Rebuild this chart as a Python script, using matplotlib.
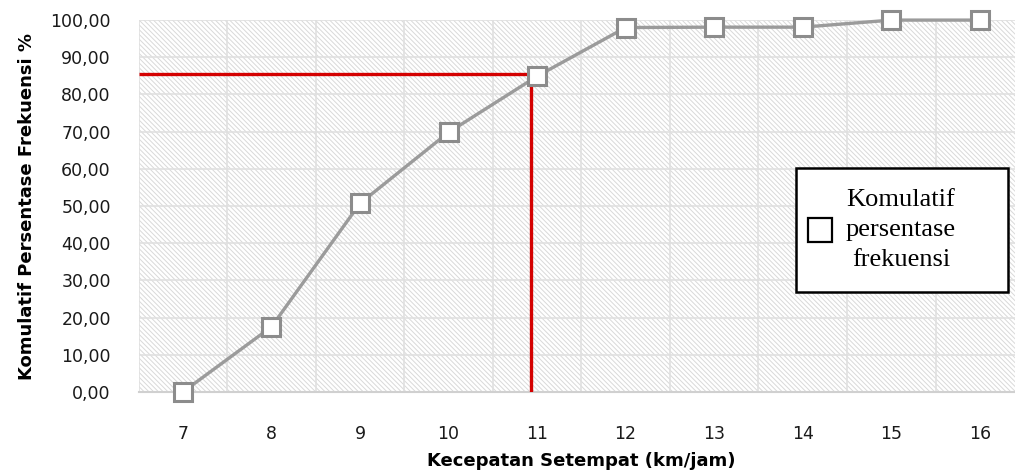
import numpy as np
import matplotlib
matplotlib.use('Agg')
import matplotlib.pyplot as plt
from matplotlib.patches import Rectangle
from matplotlib.lines import Line2D

# data
kecepatan = [7, 8, 9, 10, 11, 12, 13, 14, 15, 16]
komulatif = [0.0, 17.5, 50.7, 69.8, 84.9, 98.0, 98.1, 98.1, 100.0, 100.0]
ref_x = 10.93
ref_y = 85.4
y_ticks = [0, 10, 20, 30, 40, 50, 60, 70, 80, 90, 100]
legend_label = 'Komulatif\npersentase\nfrekuensi'

plt.rcParams['font.family'] = 'DejaVu Sans'
plt.rcParams['hatch.linewidth'] = 0.7

fig = plt.figure(figsize=(10.15, 4.75), dpi=100)
ax = fig.add_axes([0.1365, 0.1747, 0.8725, 0.783])

# hatched plot area like the excel pattern fill
bg = Rectangle((0, 0), 1, 1, transform=ax.transAxes, facecolor='white',
               edgecolor='#d9d9d9', hatch='\\\\\\\\\\\\\\', lw=0, zorder=0)
ax.add_patch(bg)

ax.set_xlim(6.5, 16.5)
ax.set_ylim(0, 100)
ax.set_xticks(kecepatan)
ax.set_xticklabels([str(k) for k in kecepatan])
ax.set_yticks(y_ticks)
ax.set_yticklabels([('%.2f' % v).replace('.', ',') for v in y_ticks])

# grid: vertical lines between categories, horizontal every 10
ax.set_xticks(np.arange(6.5, 17, 1), minor=True)
ax.grid(True, which='minor', axis='x', color='#e0e0e0', lw=1.2)
ax.grid(True, which='major', axis='y', color='#e0e0e0', lw=1.2)
ax.set_axisbelow(True)

ax.tick_params(which='both', length=0)
ax.tick_params(axis='x', pad=24, labelsize=12.5, labelcolor='#1a1a1a')
ax.tick_params(axis='y', pad=20, labelsize=12.5, labelcolor='#1a1a1a')

for s in ['top', 'right', 'left']:
    ax.spines[s].set_visible(False)
ax.spines['bottom'].set_color('#d0d0d0')
ax.spines['bottom'].set_linewidth(1.5)

# red reference lines
ax.plot([6.5, ref_x], [ref_y, ref_y], color='#d40000', lw=2.4, zorder=3,
        solid_capstyle='butt')
ax.plot([ref_x, ref_x], [ref_y, 0], color='#d40000', lw=2.4, zorder=3,
        solid_capstyle='butt')

ax.plot(kecepatan, komulatif, color='#9b9b9b', lw=2.4, marker='s',
        markersize=13, markerfacecolor='white', markeredgecolor='#8c8c8c',
        markeredgewidth=2.2, zorder=4, clip_on=False)

ax.set_ylabel('Komulatif Persentase Frekuensi %', fontsize=13, fontweight='bold',
              labelpad=10)
ax.set_xlabel('Kecepatan Setempat (km/jam)', fontsize=13, fontweight='bold',
              labelpad=6)

# legend box drawn by hand (text sits left of centre like the original)
box = Rectangle((0.7842, 0.3853), 0.2089, 0.2611, transform=fig.transFigure,
                facecolor='white', edgecolor='black', lw=1.8, zorder=10)
fig.add_artist(box)
fig.add_artist(Line2D([0.8079], [0.5158], transform=fig.transFigure, ls='none',
                      marker='s', markersize=17, markerfacecolor='white',
                      markeredgecolor='black', markeredgewidth=1.6, zorder=11))
fig.text(0.8877, 0.516, legend_label, ha='center', va='center',
         multialignment='center', family='Liberation Serif', fontsize=19,
         linespacing=1.45, zorder=11)

fig.savefig('out.png', dpi=100)
